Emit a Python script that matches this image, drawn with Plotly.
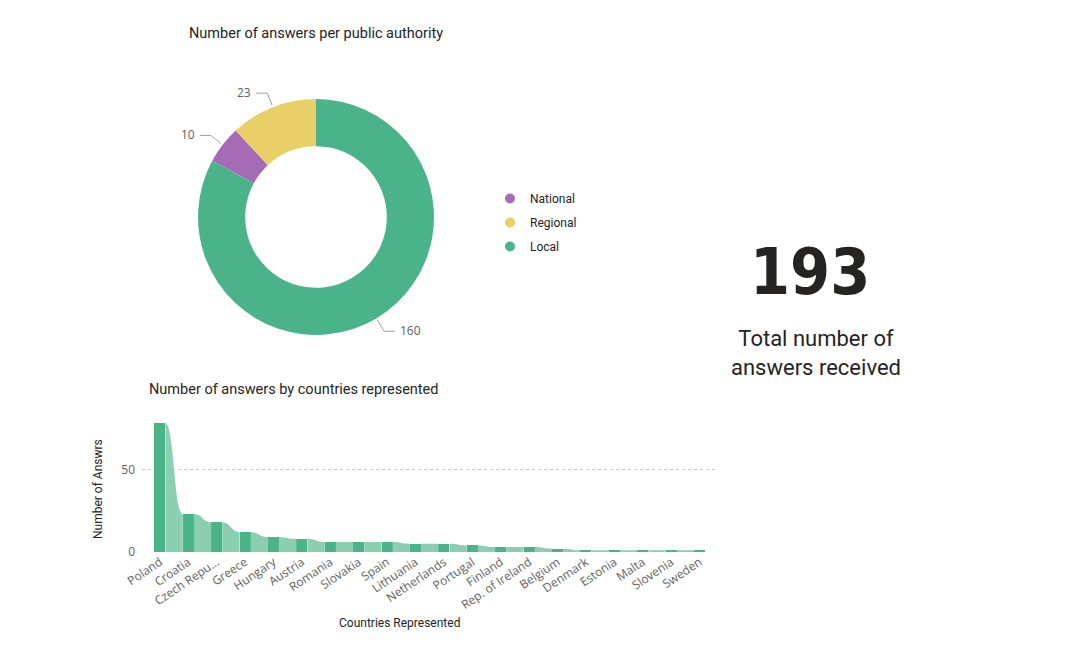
import math
import plotly.graph_objects as go

# ---- data ----
authority_labels = ["National", "Regional", "Local"]
authority_values = [10, 23, 160]
authority_colors = ["#A66BB5", "#E8CF68", "#4BB38A"]

countries = ["Poland", "Croatia", "Czech Repu...", "Greece", "Hungary", "Austria",
             "Romania", "Slovakia", "Spain", "Lithuania", "Netherlands", "Portugal",
             "Finland", "Rep. of Ireland", "Belgium", "Denmark", "Estonia", "Malta",
             "Slovenia", "Sweden"]
answers = [78, 23, 18, 12, 9, 8, 6, 6, 6, 5, 5, 4, 3, 3, 2, 1, 1, 1, 1, 1]
y_ticks = [0, 50]

total_answers = 193

DARK = "#4BB38A"
LIGHT = "#8BCFB1"
TXT = "#252423"
GRAY = "#605E5C"
LINEGRAY = "#A0A0A0"
FONT = "Roboto, Open Sans, sans-serif"
TICKFONT = "Open Sans, Noto Sans, sans-serif"

W, H = 1090, 665
def px(x): return x / W
def py(y): return 1 - y / H

fig = go.Figure()

# ---- donut ----
CX, CY, R = 316, 217, 118
total = sum(authority_values)
rot = -360 * (authority_values[0] + authority_values[1]) / total
fig.add_trace(go.Pie(
    labels=authority_labels, values=authority_values,
    marker=dict(colors=authority_colors, line=dict(width=0)),
    hole=0.6, sort=False, direction="clockwise", rotation=rot,
    textinfo="none", hoverinfo="label+value",
    showlegend=False,
    domain=dict(x=[px(CX - R), px(CX + R)], y=[py(CY + R), py(CY - R)]),
))

# outside value labels with elbow leader lines (from slice mid-angles)
start = rot
for lab, val in zip(authority_labels, authority_values):
    sweep = 360 * val / total
    mid = math.radians(start + sweep / 2)
    start += sweep
    sx, sy = math.sin(mid), -math.cos(mid)
    x0, y0 = CX + (R + 2) * sx, CY + (R + 2) * sy
    x1, y1 = CX + (R + 15) * sx, CY + (R + 15) * sy
    d = 11 if sx >= 0 else -11
    x2 = x1 + d
    fig.add_shape(type="path", xref="paper", yref="paper",
                  path=f"M {px(x0)},{py(y0)} L {px(x1)},{py(y1)} L {px(x2)},{py(y1)}",
                  line=dict(color=LINEGRAY, width=1))
    fig.add_annotation(text=str(val), x=px(x2 + (3 if d > 0 else -3)), y=py(y1 - 1),
                       xref="paper", yref="paper", showarrow=False,
                       xanchor="left" if d > 0 else "right", yanchor="middle",
                       font=dict(family=TICKFONT, size=12, color=GRAY))

# legend proxies
for lab, col in zip(authority_labels, authority_colors):
    fig.add_trace(go.Scatter(
        x=[None], y=[None], mode="markers", name=lab, legendgroup=lab,
        marker=dict(symbol="circle", size=10, color=col),
        xaxis="x", yaxis="y",
    ))

# ---- ribbon chart ----
xs = list(range(len(countries)))
bw = 0.39
for i in range(len(answers) - 1):
    x0 = xs[i] + bw / 2
    x1 = xs[i + 1] - bw / 2
    xm = (x0 + x1) / 2
    v0, v1 = answers[i], answers[i + 1]
    path = (f"M {x0},0 L {x0},{v0} C {xm},{v0} {xm},{v1} {x1},{v1} "
            f"L {x1},0 Z")
    fig.add_shape(type="path", path=path, xref="x", yref="y",
                  fillcolor=LIGHT, line=dict(width=0), layer="above")

fig.add_trace(go.Bar(
    x=xs, y=answers, width=bw, marker=dict(color=DARK, line=dict(width=0)),
    showlegend=False, xaxis="x", yaxis="y",
))

fig.update_layout(
    width=W, height=H, margin=dict(l=0, r=0, t=0, b=0),
    paper_bgcolor="white", plot_bgcolor="white",
    font=dict(family=FONT, color=TXT),
    xaxis=dict(
        domain=[px(142), px(718)], range=[-0.63, len(countries) - 1 + 0.65],
        tickmode="array", tickvals=xs, ticktext=countries, tickangle=-34,
        tickfont=dict(family=TICKFONT, size=12, color=GRAY),
        showgrid=False, zeroline=False, showline=False, ticks="",
        automargin=False, fixedrange=True,
    ),
    yaxis=dict(
        domain=[py(552), py(420)], range=[0, 80],
        tickmode="array", tickvals=y_ticks,
        tickfont=dict(family=TICKFONT, size=12, color=GRAY),
        showgrid=True, gridcolor="#C8C8C8", griddash="dot", gridwidth=1,
        zeroline=False, showline=False, ticks="", ticklabelstandoff=6,
        automargin=False, fixedrange=True,
    ),
    legend=dict(x=px(490), y=py(184), xanchor="left", yanchor="top",
                font=dict(family=FONT, size=12, color=TXT),
                tracegroupgap=5, traceorder="grouped", itemwidth=30),
    bargap=0,
)

# titles and card text
fig.add_annotation(text="Number of answers per public authority", x=px(316), y=py(34),
                   xref="paper", yref="paper", showarrow=False,
                   font=dict(size=14.5, color=TXT), xanchor="center", yanchor="middle")
fig.add_annotation(text="Number of answers by countries represented", x=px(147), y=py(389),
                   xref="paper", yref="paper", showarrow=False,
                   font=dict(size=14.5, color=TXT), xanchor="left", yanchor="middle")
fig.add_annotation(text="Number of Answrs", x=px(98), y=py(489), textangle=-90,
                   xref="paper", yref="paper", showarrow=False,
                   font=dict(size=12, color=TXT), xanchor="center", yanchor="middle")
fig.add_annotation(text="Countries Represented", x=px(399), y=py(623),
                   xref="paper", yref="paper", showarrow=False,
                   font=dict(size=12, color=TXT), xanchor="center", yanchor="middle")
fig.add_annotation(text=f"<b>{total_answers}</b>", x=px(810), y=py(272),
                   xref="paper", yref="paper", showarrow=False,
                   font=dict(family="DejaVu Sans Condensed, sans-serif",
                             size=64, color=TXT),
                   xanchor="center", yanchor="middle")
fig.add_annotation(text="Total number of<br>answers received", x=px(816), y=py(353),
                   xref="paper", yref="paper", showarrow=False,
                   font=dict(size=22, color=TXT), xanchor="center", yanchor="middle")

fig.write_html("out.html", config={"displayModeBar": False},
               post_script="document.body.style.margin='0';")
